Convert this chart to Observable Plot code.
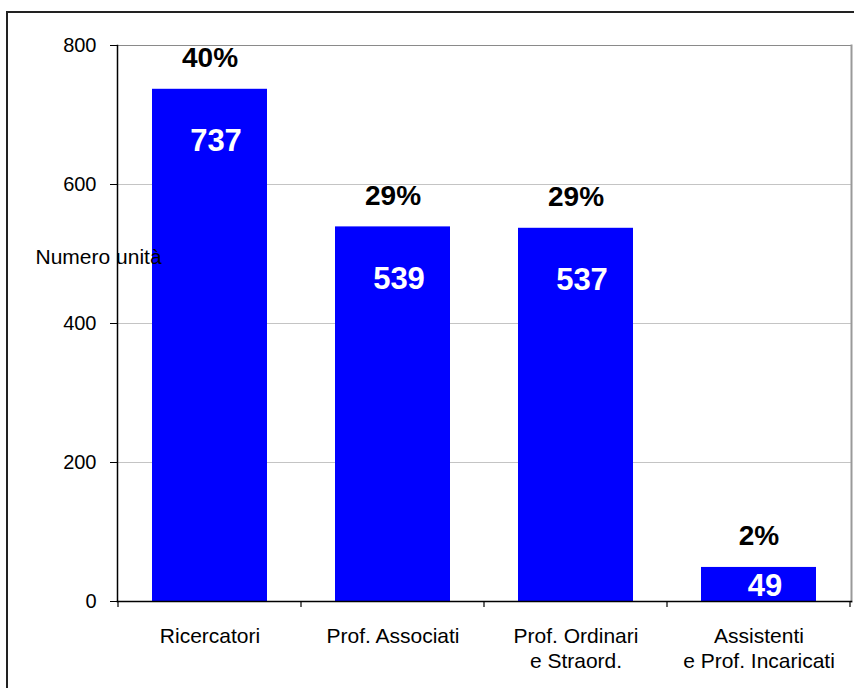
<!DOCTYPE html>
<html><head><meta charset="utf-8">
<script src="https://cdn.jsdelivr.net/npm/d3@7"></script>
<script src="https://cdn.jsdelivr.net/npm/@observablehq/plot@0.6"></script>
<style>
html,body{margin:0;padding:0;width:854px;height:688px;overflow:hidden;background:#fff;}
#frame{position:absolute;left:6px;top:11px;width:900px;height:800px;border-left:2px solid #222;border-top:2px solid #222;}
#chart{position:absolute;left:0;top:0;}
</style></head><body>
<div id="frame"></div>
<div id="chart"></div>
<script>
const categories = ["Ricercatori", "Prof. Associati", "Prof. Ordinari\ne Straord.", "Assistenti\ne Prof. Incaricati"];
const values = [737, 539, 537, 49];
const percentLabels = ["40%", "29%", "29%", "2%"];
const yTicks = [0, 200, 400, 600, 800];
const yLabel = "Numero unità";

const data = categories.map((c, i) => ({category: c, value: values[i], pct: percentLabels[i]}));

const chart = Plot.plot({
  width: 854, height: 688,
  marginLeft: 117, marginRight: 3, marginTop: 45, marginBottom: 87,
  style: {fontFamily: "'Liberation Sans', Arial, sans-serif", fontSize: "21px", color: "#000", background: "transparent", overflow: "visible"},
  x: {domain: categories, paddingInner: 0.373, paddingOuter: 0.1865, label: null},
  y: {domain: [0, 800], label: null},
  marks: [
    Plot.ruleY(yTicks.filter(t => t > 0 && t < 800), {stroke: "#c4c4c4", strokeWidth: 1}),
    Plot.ruleY([800], {stroke: "#8a8a8a", strokeWidth: 1.2}),
    Plot.frame({anchor: "right", stroke: "#999", strokeWidth: 2}),
    Plot.barY(data, {x: "category", y: "value", fill: "#0000ff"}),
    Plot.axisY({ticks: yTicks, tickSize: 7, tickPadding: 14, fontSize: 20, label: null, stroke: "#000", fill: "#000"}),
    Plot.axisX({tickSize: 0, tickPadding: 23, fontSize: 21, lineHeight: 1.22, label: null, fill: "#000"}),
    Plot.frame({anchor: "left", stroke: "#000", strokeWidth: 1.5}),
    Plot.frame({anchor: "bottom", stroke: "#000", strokeWidth: 1.5}),
    Plot.text(data, {x: "category", y: "value", text: "pct", dy: -31, fontSize: 28, fontWeight: "bold", fill: "#000"}),
    Plot.text(data.filter(d => d.value >= 100), {x: "category", y: "value", text: d => String(d.value), dy: 52, dx: 6, fontSize: 31, fontWeight: "bold", fill: "#fff"}),
    Plot.text(data.filter(d => d.value < 100), {x: "category", y: "value", text: d => String(d.value), dy: 19, dx: 6, fontSize: 31, fontWeight: "bold", fill: "#fff"}),
    Plot.text([yLabel], {frameAnchor: "top-left", dx: -82, dy: 204, textAnchor: "start", fontSize: 21, fill: "#000"})
  ]
});

document.getElementById("chart").appendChild(chart);

// category boundary tick marks below the x axis, from the band scale
const xs = chart.scale("x");
const ys = chart.scale("y");
const half = (xs.step - xs.bandwidth) / 2;
const bounds = categories.map(c => xs.apply(c) - half);
bounds.push(xs.apply(categories[categories.length - 1]) + xs.bandwidth + half);
const y0 = ys.apply(0);
d3.select(chart).append("g")
  .selectAll("line").data(bounds).join("line")
  .attr("x1", d => d).attr("x2", d => d)
  .attr("y1", y0).attr("y2", y0 + 6)
  .attr("stroke", "#000").attr("stroke-width", 1.2);
</script>
</body></html>
